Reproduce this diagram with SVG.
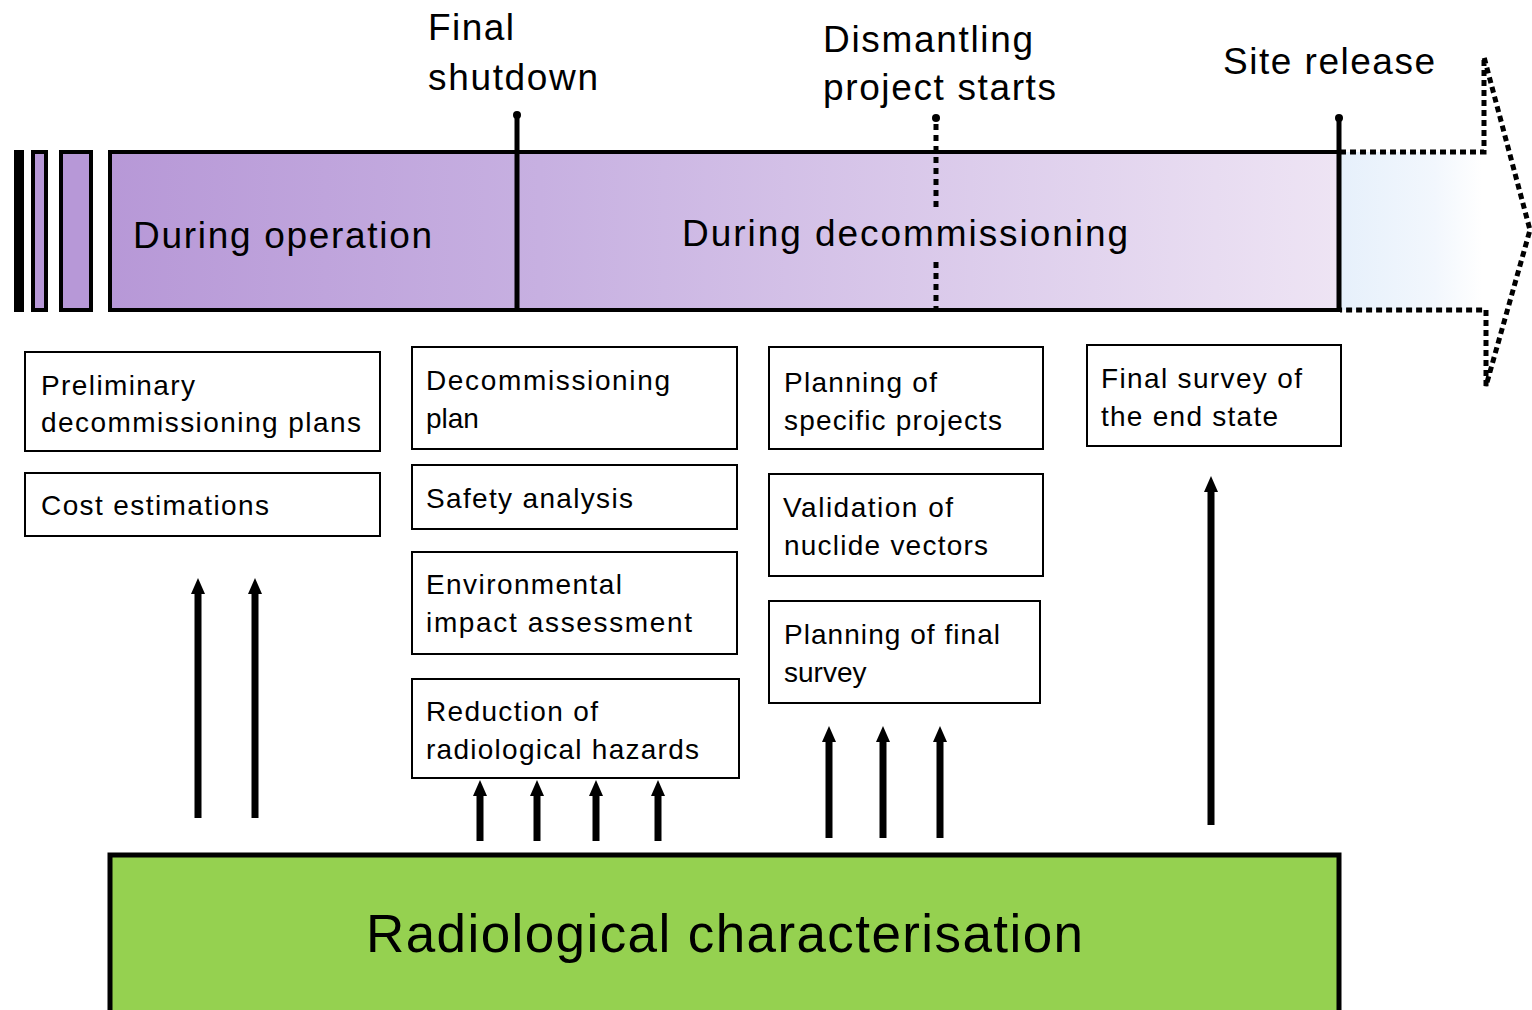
<svg xmlns="http://www.w3.org/2000/svg" width="1532" height="1010" viewBox="0 0 1532 1010">
<style>
.t{font-family:"Liberation Sans",Arial,sans-serif;fill:#000}
.big{font-size:37px}
.box{fill:#fff;stroke:#000;stroke-width:2}
.bt{font-size:28px}
.arr{stroke:#000;stroke-width:7;fill:none;marker-end:url(#ah)}
.dot{stroke:#000;stroke-width:5;fill:none;stroke-dasharray:6 4}
</style>
<defs>
<linearGradient id="pg" x1="0" y1="0" x2="1" y2="0">
<stop offset="0" stop-color="#b798d7"/>
<stop offset="0.35" stop-color="#c7b0e1"/>
<stop offset="1" stop-color="#eee4f4"/>
</linearGradient>
<linearGradient id="bg" x1="0" y1="0" x2="1" y2="0">
<stop offset="0" stop-color="#e6f0fb"/>
<stop offset="0.5" stop-color="#f2f7fd"/>
<stop offset="0.75" stop-color="#ffffff"/>
</linearGradient>
<marker id="ah" markerUnits="userSpaceOnUse" markerWidth="16" markerHeight="24" viewBox="0 0 16 24" refX="4" refY="12" orient="auto">
<path d="M0,5 L16,12 L0,19 Z" fill="#000"/>
</marker>
</defs>

<g id="future-arrow">
<path d="M1340,152 L1484,152 L1484,57 L1530,230 L1486,386 L1486,310 L1340,310 Z" fill="url(#bg)" stroke="none"/>
<path d="M1340,152 L1484,152 L1484,57 L1530,230 L1486,386 L1486,310 L1340,310" class="dot"/>
</g>

<g id="history-bars">
<rect x="14" y="150" width="10" height="162" fill="#000"/>
<rect x="33" y="152" width="13" height="158" fill="#b798d7" stroke="#000" stroke-width="4"/>
<rect x="61" y="152" width="30" height="158" fill="#b798d7" stroke="#000" stroke-width="4"/>
</g>

<g id="timeline">
<rect x="110" y="152" width="1229" height="158" fill="url(#pg)" stroke="#000" stroke-width="4"/>
<text class="t big" x="133" y="248" textLength="299" lengthAdjust="spacing">During operation</text>
<text class="t big" x="682" y="246" textLength="446" lengthAdjust="spacing">During decommissioning</text>
</g>

<g id="milestone-final-shutdown">
<line x1="517" y1="114" x2="517" y2="312" stroke="#000" stroke-width="5"/>
<circle cx="517" cy="115" r="4" fill="#000"/>
<text class="t big" x="428" y="40" textLength="86" lengthAdjust="spacing">Final</text>
<text class="t big" x="428" y="90" textLength="170" lengthAdjust="spacing">shutdown</text>
</g>

<g id="milestone-dismantling">
<circle cx="936" cy="118" r="4" fill="#000"/>
<line x1="936" y1="124" x2="936" y2="212" stroke="#000" stroke-width="5" stroke-dasharray="6 5"/>
<line x1="936" y1="262" x2="936" y2="310" stroke="#000" stroke-width="5" stroke-dasharray="6 5"/>
<text class="t big" x="823" y="52" textLength="210" lengthAdjust="spacing">Dismantling</text>
<text class="t big" x="823" y="100" textLength="233" lengthAdjust="spacing">project starts</text>
</g>

<g id="milestone-site-release">
<line x1="1339" y1="117" x2="1339" y2="312" stroke="#000" stroke-width="5"/>
<circle cx="1339" cy="118" r="4" fill="#000"/>
<text class="t big" x="1223" y="74" textLength="212" lengthAdjust="spacing">Site release</text>
</g>

<g id="box-preliminary">
<rect class="box" x="25" y="352" width="355" height="99"/>
<text class="t bt" x="41" y="395" textLength="154" lengthAdjust="spacing">Preliminary</text>
<text class="t bt" x="41" y="432" textLength="320" lengthAdjust="spacing">decommissioning plans</text>
</g>
<g id="box-cost">
<rect class="box" x="25" y="473" width="355" height="63"/>
<text class="t bt" x="41" y="515" textLength="228" lengthAdjust="spacing">Cost estimations</text>
</g>

<g id="box-decom-plan">
<rect class="box" x="412" y="347" width="325" height="102"/>
<text class="t bt" x="426" y="390" textLength="244" lengthAdjust="spacing">Decommissioning</text>
<text class="t bt" x="426" y="428">plan</text>
</g>
<g id="box-safety">
<rect class="box" x="412" y="465" width="325" height="64"/>
<text class="t bt" x="426" y="508" textLength="207" lengthAdjust="spacing">Safety analysis</text>
</g>
<g id="box-env">
<rect class="box" x="412" y="552" width="325" height="102"/>
<text class="t bt" x="426" y="594" textLength="196" lengthAdjust="spacing">Environmental</text>
<text class="t bt" x="426" y="632" textLength="266" lengthAdjust="spacing">impact assessment</text>
</g>
<g id="box-reduction">
<rect class="box" x="412" y="679" width="327" height="99"/>
<text class="t bt" x="426" y="721" textLength="172" lengthAdjust="spacing">Reduction of</text>
<text class="t bt" x="426" y="759" textLength="273" lengthAdjust="spacing">radiological hazards</text>
</g>

<g id="box-planning-specific">
<rect class="box" x="769" y="347" width="274" height="102"/>
<text class="t bt" x="784" y="392" textLength="153" lengthAdjust="spacing">Planning of</text>
<text class="t bt" x="784" y="430" textLength="218" lengthAdjust="spacing">specific projects</text>
</g>
<g id="box-validation">
<rect class="box" x="769" y="474" width="274" height="102"/>
<text class="t bt" x="783" y="517" textLength="170" lengthAdjust="spacing">Validation of</text>
<text class="t bt" x="784" y="555" textLength="204" lengthAdjust="spacing">nuclide vectors</text>
</g>
<g id="box-planning-final">
<rect class="box" x="769" y="601" width="271" height="102"/>
<text class="t bt" x="784" y="644" textLength="216" lengthAdjust="spacing">Planning of final</text>
<text class="t bt" x="784" y="682">survey</text>
</g>

<g id="box-final-survey">
<rect class="box" x="1087" y="345" width="254" height="101"/>
<text class="t bt" x="1101" y="388" textLength="201" lengthAdjust="spacing">Final survey of</text>
<text class="t bt" x="1101" y="426" textLength="177" lengthAdjust="spacing">the end state</text>
</g>

<g id="connectors">
<line class="arr" x1="198" y1="818" x2="198" y2="590"/>
<line class="arr" x1="255" y1="818" x2="255" y2="590"/>
<line class="arr" x1="480" y1="841" x2="480" y2="792"/>
<line class="arr" x1="537" y1="841" x2="537" y2="792"/>
<line class="arr" x1="596" y1="841" x2="596" y2="792"/>
<line class="arr" x1="658" y1="841" x2="658" y2="792"/>
<line class="arr" x1="829" y1="838" x2="829" y2="738"/>
<line class="arr" x1="883" y1="838" x2="883" y2="738"/>
<line class="arr" x1="940" y1="838" x2="940" y2="738"/>
<line class="arr" x1="1211" y1="825" x2="1211" y2="488"/>
</g>

<g id="radiological-characterisation">
<rect x="110" y="855" width="1229" height="170" fill="#95d150" stroke="#000" stroke-width="5"/>
<text class="t" x="366" y="952" font-size="53" textLength="717" lengthAdjust="spacing">Radiological characterisation</text>
</g>
</svg>
